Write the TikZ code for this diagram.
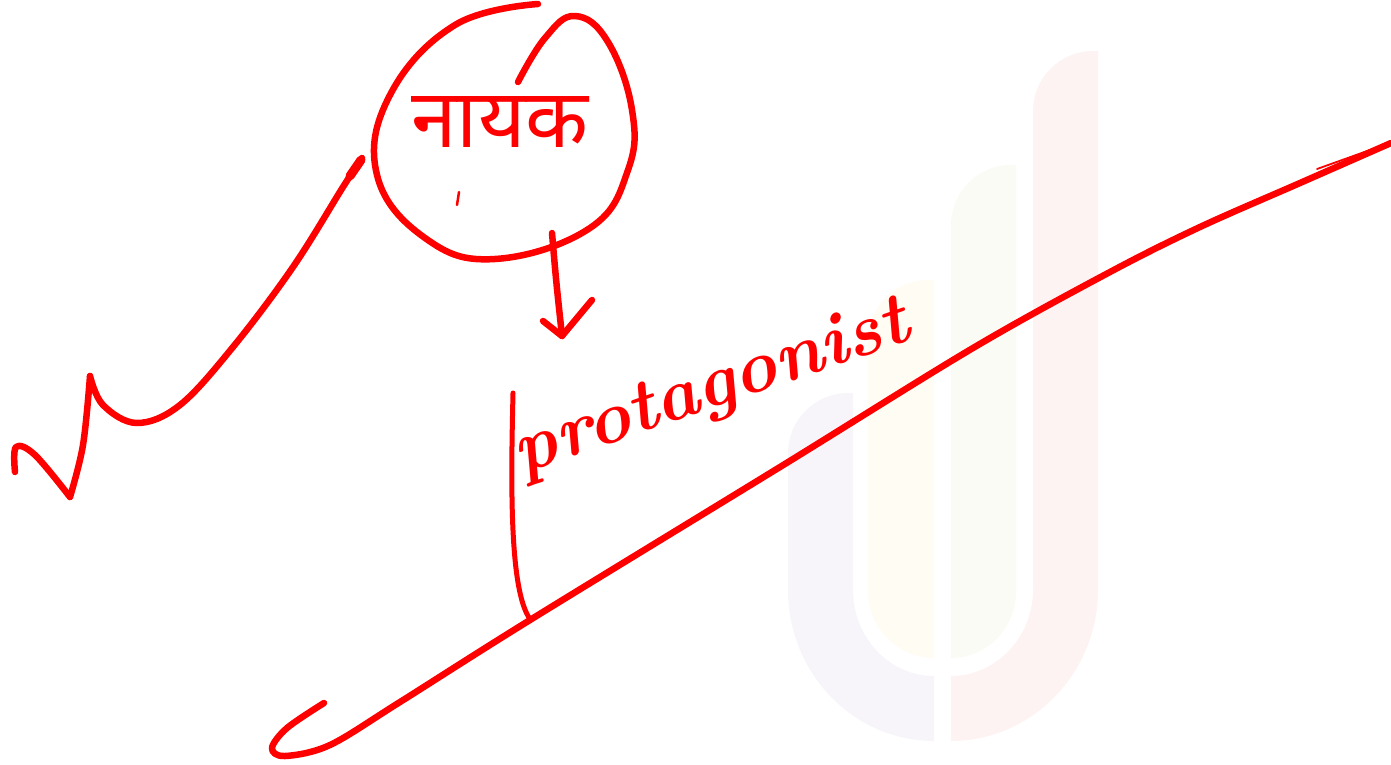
\documentclass[tikz,border=0pt]{standalone}
\usepackage{fontspec}
\newfontfamily\deva[Script=Devanagari]{Noto Sans}
\definecolor{inkred}{HTML}{FF0000}
\definecolor{lgLav}{HTML}{F7F5FA}
\definecolor{lgYel}{HTML}{FFFCF3}
\definecolor{lgGrn}{HTML}{FAFBF5}
\definecolor{lgPnk}{HTML}{FDF3F2}
\tikzset{
  ink/.style={draw=inkred, line width=6.5pt, line cap=round, line join=round},
  thinink/.style={draw=inkred, line width=1.8pt, line cap=round},
  handtext/.style={text=inkred, inner sep=0pt},
}
\begin{document}
\begin{tikzpicture}[x=1pt,y=-1pt]
\useasboundingbox (0,0) rectangle (1391,765);
% faint watermark logo
\fill[lgLav] (853,393) -- (853,590) .. controls (853,637) and (889,676) .. (934,676) -- (934,741)
  .. controls (853,741) and (788,673) .. (788,590) -- (788,453) .. controls (788,420) and (815,393) .. (848,393) -- cycle;
\fill[lgYel] (934,280) -- (934,658) .. controls (898,658) and (868,628) .. (868,592) -- (868,340)
  .. controls (868,307) and (895,280) .. (928,280) -- cycle;
\fill[lgGrn] (951,225) .. controls (951,192) and (978,165) .. (1011,165) -- (1016,165) -- (1016,592)
  .. controls (1016,628) and (987,658) .. (951,658) -- cycle;
\fill[lgPnk] (1098,51) -- (1098,590) .. controls (1098,673) and (1032,741) .. (951,741) -- (951,676)
  .. controls (996,676) and (1033,637) .. (1033,590) -- (1033,111) .. controls (1033,78) and (1060,51) .. (1093,51) -- cycle;

% left squiggle
\draw[ink] plot[smooth, tension=0.6] coordinates {(15,472) (16,447) (35,455) (70,497)};
\draw[ink] plot[smooth, tension=0.6] coordinates {(70,497) (83,445) (90,376)};
\draw[ink] plot[smooth, tension=0.6] coordinates {(90,376) (103,405) (137,423) (180,405) (233,347) (293,267) (343,187) (362,158)};
\draw[ink, line width=9pt] (350,176) -- (361,160);

% circle (spiral)
\draw[ink] plot[smooth, tension=0.7] coordinates {(538,4) (455,25) (390,95) (377,175) (425,238) (495,259) (590,228) (628,170) (632,110) (608,42) (575,16) (545,38) (518,82)};
\node[handtext, font=\deva\fontsize{82}{86}\selectfont] (hero) at (500,122) {नायक};
\draw[inkred, line width=2.5pt, line cap=round] (459,192) -- (457,205);

% arrow from circle to text
\coordinate (cbot) at (552,233);
\coordinate (atip) at (562,336);
\coordinate (aleft) at (543,321);
\coordinate (aright) at (592,300);
\draw[ink] (cbot) .. controls (556,280) .. (atip);
\draw[ink] (aleft) -- (atip) -- (aright);

% protagonist
\node[handtext, rotate=19, font=\bfseries\itshape\fontsize{74}{78}\selectfont] (prot) at (712,390) {protagonist};

% big slanted line
\draw[ink] plot[smooth, tension=0.55] coordinates {(324,703) (287,728) (272,748) (285,756) (330,745) (400,702) (530,620) (780,467) (973,348) (1110,272) (1200,227) (1300,183) (1391,143)};
\draw[thinink] (1317,169) -- (1370,150);

% stroke from text down to the line
\coordinate (ptop) at (513,393);
\coordinate (foot) at (530,619);
\draw[ink, line width=5pt] (ptop) .. controls (511,480) and (509,590) .. (foot);
\end{tikzpicture}
\end{document}
